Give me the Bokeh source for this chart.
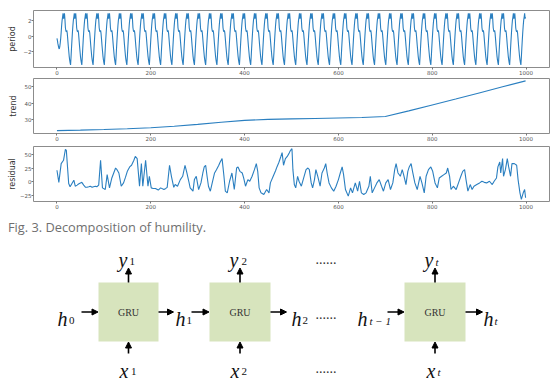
import numpy as np
from bokeh.plotting import figure
from bokeh.layouts import column
from bokeh.models import Range1d, ColumnDataSource, Arrow, NormalHead, FixedTicker, Div
from bokeh.core.properties import value
from bokeh.embed import file_html
from bokeh.resources import INLINE

# ---------------- data ----------------
x_ticks = [0, 200, 400, 600, 800, 1000]
period_ticks = [-2, 0, 2]
trend_ticks = [30, 40, 50]
res_ticks = [-25, 0, 25, 50]

# seasonal ("period") component: first partial cycle + one repeating 24-step cycle
period_start = [-0.3, -0.6, -1.0, -1.3, -1.6, -1.7, -1.4, -0.9, -0.3]
period_cycle = [-3.8, -2.8, -1.6, -0.5, 0.5, 1.4, 2.1, 2.5, 3.0, 2.3, 2.5, 3.0,
                2.2, 1.1, 0.7, 0.55, 0.75, 0.35, -0.4, -1.2, -1.9, -2.6, -3.1, -3.5]
period_vals = period_start + period_cycle[4:] + period_cycle * 40 + period_cycle[:11]
period_t = list(range(len(period_vals)))

trend_t = [0, 50, 100, 150, 200, 250, 300, 350, 400, 450, 500, 550, 600, 650,
           700, 750, 800, 850, 900, 950, 999]
trend_v = [22.8, 23.1, 23.5, 24.0, 24.6, 25.5, 26.7, 28.0, 29.2, 29.8, 30.1, 30.4,
           30.7, 31.0, 31.6, 35.1, 38.8, 42.5, 46.3, 50.1, 53.8]

res_t = [0, 4, 9, 14, 18, 20, 25, 28, 32, 36, 39, 43, 46, 50, 53, 57, 61, 64, 68, 71,
         75, 78, 82, 85, 89, 93, 97, 103, 107, 112, 117, 121, 125, 128, 132, 137, 142,
         146, 150, 155, 159, 164, 167, 171, 176, 180, 183, 189, 194, 197, 201, 205, 210,
         216, 221, 228, 232, 235, 240, 244, 249, 252, 257, 263, 268, 273, 277, 281, 284,
         290, 293, 297, 302, 307, 311, 314, 317, 320, 323, 327, 331, 336, 340, 345, 348,
         352, 356, 359, 363, 368, 373, 378, 383, 386, 390, 395, 398, 402, 407, 411, 416,
         421, 425, 428, 431, 435, 441, 447, 452, 455, 461, 466, 469, 473, 477, 480, 483,
         487, 491, 495, 498, 501, 503, 506, 509, 513, 516, 521, 526, 531, 535, 538, 542,
         545, 549, 552, 556, 561, 565, 570, 573, 576, 580, 585, 590, 595, 600, 604, 608,
         611, 615, 621, 626, 630, 636, 641, 645, 649, 654, 659, 665, 668, 672, 677, 682,
         687, 692, 696, 701, 706, 711, 716, 720, 723, 727, 732, 736, 739, 744, 748, 751,
         755, 758, 763, 768, 774, 778, 783, 787, 792, 797, 801, 806, 811, 815, 820, 825,
         830, 833, 837, 840, 845, 851, 856, 861, 865, 869, 872, 876, 881, 885, 889, 895,
         901, 906, 911, 916, 922, 928, 932, 937, 940, 944, 946, 950, 952, 956, 960, 963,
         967, 970, 975, 980, 983, 987, 990, 994, 997, 999]
res_v = [21, -1, 33, 39, 59, 57, -3, -9, -3, 3, -8, -6, -4, -2, -1, -6, -10, -10, -9, -8,
         -10, -9, -8, -9, -6, 39, -11, -14, 13, -11, 7, 16, 25, 22, 16, -8, -2,
         8, 19, 27, 30, 39, 46, 42, -8, 33, -8, 39, -8, 10, -11, -12, -12,
         -15, -11, -14, -12, -10, 30, 10, -10, -5, -8, 4, 10, 30, 16, 1, -11,
         -17, 4, 10, -14, -2, 16, 27, 30, 10, -8, -17, -2, 16, 22, 30, 36,
         42, 10, -17, -20, 1, 16, -14, 25, 27, 19, 16, 7, -8, 4, 1, 10,
         22, 33, 19, -11, -20, -23, -14, -20, -2, 10, 20, 27, 35, 45, 53, 30,
         42, 46, 52, 57, 60, 22, -5, -11, 10, 1, -8, 7, 22, 25, 22, -2,
         -11, 4, 22, 10, -8, 16, 25, 33, 16, -2, -11, -17, -8, 4, 16, 27,
         13, -14, -26, -11, -20, -2, -17, 1, -20, -23, -20, -8, 10, -20, -11, -2,
         4, -8, -17, -2, 4, -14, -2, 22, 33, 16, 10, 22, 13, -5, 19, 27,
         33, 19, -2, -14, 10, -2, -20, 10, 22, 27, 19, -2, -11, 7, 10, 13,
         16, 25, 10, -14, -8, -14, -2, 10, 19, 22, 4, -17, -5, -14, -8, -5,
         -2, 1, -1, -2, 1, -5, 1, 7, 27, 36, 16, 42, 10, 22, 42, 27,
         10, 33, 33, 30, 4, -20, -32, -20, -14, -29]

caption = "Fig. 3. Decomposition of humility."

# GRU diagram (schematic, page-pixel coordinates)
box_left = [98, 209, 404]
box_right = [158, 270, 465]
box_top = [282, 282, 282]
box_bottom = [341, 341, 341]
box_label = ["GRU", "GRU", "GRU"]

harrow_x0 = [81, 158, 191, 270, 387, 465]
harrow_x1 = [97.5, 173, 208.5, 286, 403.5, 482]
harrow_y = [311.5] * 6
up_x = [128, 239.5, 434.5]
up_y0 = [282, 282, 282]
up_y1 = [267.5, 267.5, 267.5]
in_y0 = [353, 353, 353]
in_y1 = [341.5, 341.5, 341.5]

main_txt = ["h", "h", "h", "h", "h", "y", "y", "y", "x", "x", "x"]
main_x = [57, 175, 291, 357, 483, 118, 229, 424, 119, 230, 426]
main_y = [318, 318, 318, 318, 318, 259.5, 259.5, 259.5, 370, 370, 370]
sub_txt = ["0", "1", "2", "t \u2212 1", "t", "1", "2", "t", "1", "2", "t"]
sub_style = ["normal", "normal", "normal", "italic", "italic", "normal", "normal",
             "italic", "normal", "normal", "italic"]
sub_x = [68.5, 186, 302, 369, 494, 129, 241, 435, 130.5, 241, 437]
sub_y = [320, 320, 320, 320, 320, 261, 261, 261, 371, 371, 371]
dots_x = [315, 315, 315]
dots_y = [258, 313, 367]

LINE = "#2a7fc0"
W = 550
LEFT = 33


def panel(height, top, yr, yticks, ylabel, standoff):
    p = figure(width=W, height=height, x_range=Range1d(-50, 1050), y_range=yr,
               output_backend="svg", toolbar_location=None,
               min_border_left=LEFT, min_border_right=1, min_border_top=top,
               min_border_bottom=9)
    p.grid.visible = False
    p.outline_line_color = "#8c8c8c"
    p.outline_line_width = 1
    p.xaxis.ticker = FixedTicker(ticks=x_ticks)
    p.yaxis.ticker = FixedTicker(ticks=yticks)
    p.yaxis.major_label_overrides = {t: str(t).replace("-", "\u2212") for t in yticks}
    for ax in p.axis:
        ax.axis_line_color = None
        ax.major_tick_out = 2
        ax.major_tick_in = 0
        ax.minor_tick_line_color = None
        ax.major_tick_line_color = "#777777"
        ax.major_label_text_font = "DejaVu Sans"
        ax.major_label_text_font_size = "5.5px"
        ax.major_label_text_color = "#555555"
        ax.major_label_standoff = 0
    p.yaxis.axis_label = ylabel
    p.yaxis.axis_label_text_font = "DejaVu Sans"
    p.yaxis.axis_label_text_font_size = "8px"
    p.yaxis.axis_label_text_font_style = "normal"
    p.yaxis.axis_label_text_color = "#333333"
    p.yaxis.axis_label_standoff = standoff
    return p


p1 = panel(77, 10, Range1d(-4.14, 3.37), period_ticks, "period", 3)
p1.line(period_t, period_vals, line_color=LINE, line_width=1.1)

p2 = panel(66, 1, Range1d(21, 55.3), trend_ticks, "trend", 4)
p2.line(trend_t, trend_v, line_color=LINE, line_width=1.1)

p3 = panel(68, 3, Range1d(-35.7, 64), res_ticks, "residual", 0)
p3.line(res_t, res_v, line_color=LINE, line_width=1.1)

# caption (page y 211..235)
cap = Div(text=caption, width=300, height=18, margin=(6, 0, 0, 8),
          styles={"font-family": "Open Sans", "font-size": "12.8px",
                  "color": "#6f6f6f", "line-height": "20px", "white-space": "nowrap"})

# diagram (frame aligned with the panels above: page x LEFT..W-1)
TOP = 235
H = 145
pd = figure(width=W, height=H, x_range=Range1d(LEFT, W - 1),
            y_range=Range1d(TOP + H, TOP),
            output_backend="svg", toolbar_location=None, min_border=0,
            min_border_left=LEFT, min_border_right=1,
            x_axis_location=None, y_axis_location=None)
pd.grid.visible = False
pd.outline_line_color = None

pd.quad(left=box_left, right=box_right, top=box_top, bottom=box_bottom,
        fill_color="#d7e4bd", line_color=None)
pd.text(x=[(a + b) / 2 for a, b in zip(box_left, box_right)],
        y=[(a + b) / 2 for a, b in zip(box_top, box_bottom)], text=box_label,
        text_font=value("Liberation Serif"), text_font_size="10px", text_color="#333333",
        text_align="center", text_baseline="middle")

def arrows(x0, y0, x1, y1):
    src = ColumnDataSource(dict(x0=x0, y0=y0, x1=x1, y1=y1))
    pd.add_layout(Arrow(end=NormalHead(size=6, fill_color="black", line_color="black",
                                       line_width=1),
                        x_start="x0", y_start="y0", x_end="x1", y_end="y1",
                        line_color="black", line_width=1.6, source=src))

arrows(harrow_x0, harrow_y, harrow_x1, harrow_y)
arrows(up_x, up_y0, up_x, up_y1)
arrows(up_x, in_y0, up_x, in_y1)

pd.text(x=main_x, y=main_y, text=main_txt, text_font=value("Liberation Serif"),
        text_font_size="20px", text_font_style="italic", text_color="#111111",
        text_baseline="alphabetic")
src_sub = ColumnDataSource(dict(x=sub_x, y=sub_y, t=sub_txt, s=sub_style))
pd.text(x="x", y="y", text="t", text_font_style="s", source=src_sub,
        text_font=value("Liberation Serif"), text_font_size="11px",
        text_color="#111111", text_baseline="alphabetic")
pd.text(x=dots_x, y=dots_y, text=["......"] * 3, text_font=value("Liberation Serif"),
        text_font_size="14px", text_color="#333333", text_baseline="alphabetic")

layout = column(p1, p2, p3, cap, pd, spacing=0)
open("out.html", "w").write(file_html(layout, INLINE))
